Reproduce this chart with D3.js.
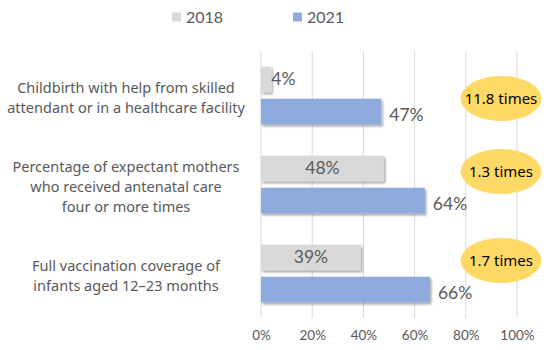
<!DOCTYPE html>
<html>
<head>
<meta charset="utf-8">
<script src="https://cdn.jsdelivr.net/npm/d3@7"></script>
<style>
  body { margin: 0; background: #fff; }
  svg { display: block; font-family: "Noto Sans", sans-serif; }
  .num { font-family: Lato, "Noto Sans", sans-serif; font-weight: 400; }
</style>
</head>
<body>
<svg width="550" height="350"></svg>
<script>
const categories = [
  ['Childbirth with help from skilled', 'attendant or in a healthcare facility'],
  ['Percentage of expectant mothers', 'who received antenatal care', 'four or more times'],
  ['Full vaccination coverage of', 'infants aged 12\u201323 months']
];
const seriesNames = ['2018', '2021'];
const values2018 = [4, 48, 39];
const values2021 = [47, 64, 66];
const ratioLabels = ['11.8 times', '1.3 times', '1.7 times'];
const tickValues = [0, 20, 40, 60, 80, 100];

function plot() {
  const svg = d3.select('svg');
  const colors = ['#d9d9d9', '#8faadc'];
  const textColor = '#595959';

  const xScale = d3.scaleLinear()
      .domain([0, 100])
      .range([261, 517]);
  const yScale = d3.scaleBand()
      .domain(d3.range(categories.length))
      .range([51, 318])
      .paddingInner(0.35)
      .paddingOuter(0.175);
  const subScale = d3.scaleBand()
      .domain(seriesNames)
      .range([0, yScale.bandwidth()])
      .paddingInner(0.2);

  const defs = svg.append('defs');
  const shadow = defs.append('filter')
      .attr('id', 'shadow')
      .attr('x', '-10%').attr('y', '-20%')
      .attr('width', '130%').attr('height', '160%');
  shadow.append('feDropShadow')
      .attr('dx', 1.5)
      .attr('dy', 2)
      .attr('stdDeviation', 1.2)
      .attr('flood-color', '#000')
      .attr('flood-opacity', 0.35);

  // gridlines
  svg.append('g')
      .selectAll('line')
      .data(tickValues)
      .enter()
      .append('line')
      .attr('x1', d => xScale(d))
      .attr('x2', d => xScale(d))
      .attr('y1', 51)
      .attr('y2', 318)
      .style('stroke', '#d9d9d9')
      .style('stroke-width', 1);

  const xAxis = d3.axisBottom(xScale)
      .tickValues(tickValues)
      .tickFormat(d => d + '%')
      .tickSize(0)
      .tickPadding(10);
  const xAxisG = svg.append('g')
      .attr('transform', 'translate(0, 318)')
      .call(xAxis);
  xAxisG.select('.domain').remove();
  xAxisG.selectAll('text')
      .attr('class', 'num')
      .style('font-size', '13.5px')
      .style('fill', textColor)
      .attr('dy', '0.9em');

  const rows = categories.map((c, i) => ({ i, v: [values2018[i], values2021[i]] }));

  const groups = svg.selectAll('g.group')
      .data(rows)
      .enter()
      .append('g')
      .attr('class', 'group')
      .attr('transform', d => `translate(0, ${yScale(d.i)})`);

  groups.selectAll('rect')
      .data(d => d.v.map((v, k) => ({ v, k })))
      .enter()
      .append('rect')
      .attr('x', xScale(0))
      .attr('y', d => subScale(seriesNames[d.k]))
      .attr('width', d => xScale(d.v) - xScale(0))
      .attr('height', subScale.bandwidth())
      .attr('filter', 'url(#shadow)')
      .style('fill', d => colors[d.k]);

  // value labels: 2018 centered inside (outside if too small), 2021 outside end
  groups.selectAll('text.value')
      .data(d => d.v.map((v, k) => ({ v, k })))
      .enter()
      .append('text')
      .attr('class', 'value num')
      .attr('x', d => {
        if (d.k === 0 && d.v > 10) return (xScale(0) + xScale(d.v)) / 2;
        return xScale(d.v) + (d.k === 0 ? 0 : 8);
      })
      .attr('y', d => subScale(seriesNames[d.k]) + subScale.bandwidth() / 2 + (d.k === 1 ? 3 : -1))
      .attr('dy', '0.35em')
      .attr('text-anchor', d => (d.k === 0 && d.v > 10) ? 'middle' : 'start')
      .style('font-size', '17.5px')
      .style('fill', textColor)
      .text(d => d.v + '%');

  // category labels
  const catText = svg.append('g')
      .selectAll('text')
      .data(categories)
      .enter()
      .append('text')
      .attr('text-anchor', 'middle')
      .attr('x', 126)
      .attr('y', (d, i) => yScale(i) + yScale.bandwidth() / 2 + 2 - (d.length - 1) * 10)
      .style('font-size', '14.5px')
      .style('fill', textColor);
  catText.selectAll('tspan')
      .data(d => d)
      .enter()
      .append('tspan')
      .attr('x', 126)
      .attr('dy', (d, j) => j === 0 ? '0.35em' : '20px')
      .text(d => d);

  // ratio badges
  const badgeNudge = [3, -13, -13];
  const badges = svg.append('g')
      .selectAll('g')
      .data(ratioLabels)
      .enter()
      .append('g')
      .attr('transform', (d, i) => `translate(501, ${yScale(i) + yScale.bandwidth() / 2 + badgeNudge[i]})`);
  badges.append('ellipse')
      .attr('rx', 40.5)
      .attr('ry', 22.5)
      .style('fill', '#ffd966');
  badges.append('text')
      .attr('text-anchor', 'middle')
      .attr('dy', '0.35em')
      .style('font-size', '15px')
      .style('fill', '#000')
      .text(d => d);

  // legend
  const legend = svg.append('g')
      .selectAll('g')
      .data(seriesNames)
      .enter()
      .append('g')
      .attr('transform', (d, i) => `translate(${172 + i * 121}, 17)`);
  legend.append('rect')
      .attr('x', 0)
      .attr('y', -4.5)
      .attr('width', 9)
      .attr('height', 9)
      .style('fill', (d, i) => colors[i]);
  legend.append('text')
      .attr('class', 'num')
      .attr('x', 14)
      .attr('dy', '0.35em')
      .style('font-size', '16px')
      .style('fill', textColor)
      .text(d => d);
}

plot();
</script>
</body>
</html>
